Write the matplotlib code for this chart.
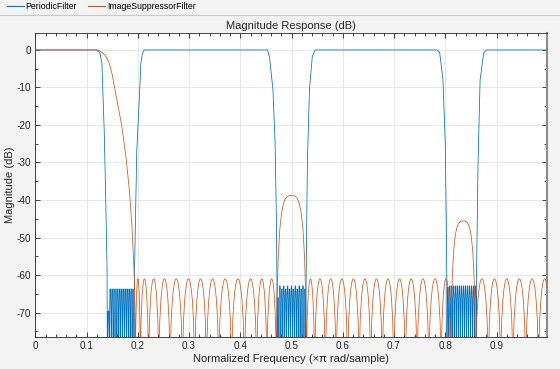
import matplotlib.pyplot as plt
from matplotlib.lines import Line2D
from matplotlib.patches import PathPatch
from matplotlib.path import Path

plt.rcParams['font.family'] = ['Liberation Sans', 'DejaVu Sans']
plt.rcParams['axes.unicode_minus'] = False

BLUE = '#0072BD'
ORANGE = '#D95319'
FLOOR = -90.0  # nulls go far below the visible range
LW = 0.55

# ---- PeriodicFilter (blue) ----
# passband / transition edges, (freq, dB)
periodic_edges = [
    ([0.0, 0.05, 0.10, 0.1217, 0.126, 0.130, 0.1346, 0.1375, 0.1400, 0.1408],
     [0.0, 0.0, 0.0, 0.0, -0.8, -3.5, -22.0, -40.0, -58.0, -90.0]),
    ([0.1925, 0.1935, 0.198, 0.2035, 0.206, 0.209, 0.2127, 0.30, 0.40, 0.453, 0.457, 0.4638, 0.468, 0.4705, 0.4715, 0.4718],
     [-90.0, -60.0, -27.0, -11.5, -3.5, -1.0, 0.0, 0.0, 0.0, 0.0, -1.8, -10.6, -25.0, -45.0, -60.0, -90.0]),
    ([0.528, 0.5285, 0.531, 0.535, 0.5405, 0.546, 0.65, 0.75, 0.784, 0.789, 0.7955, 0.800, 0.802, 0.803, 0.8033],
     [-90.0, -60.0, -30.0, -10.6, -1.8, 0.0, 0.0, 0.0, 0.0, -0.6, -8.0, -25.0, -45.0, -60.0, -90.0]),
    ([0.8605, 0.861, 0.864, 0.868, 0.8748, 0.880, 0.95, 0.998],
     [-90.0, -60.0, -30.0, -8.0, -0.9, 0.0, 0.0, 0.0]),
]
# stopband ripple: null frequencies and lobe peak levels
periodic_nulls = [
    [0.1408, 0.1445, 0.1482, 0.1519, 0.1556, 0.1593, 0.1630, 0.1667, 0.1704, 0.1741, 0.1778, 0.1815, 0.1852, 0.1889, 0.1925],
    [0.4718, 0.4755, 0.4793, 0.4830, 0.4868, 0.4905, 0.4943, 0.4980, 0.5018, 0.5055, 0.5093, 0.5130, 0.5168, 0.5205, 0.5243, 0.5280],
    [0.8033, 0.8071, 0.8109, 0.8147, 0.8186, 0.8224, 0.8262, 0.8300, 0.8338, 0.8376, 0.8414, 0.8452, 0.8491, 0.8529, 0.8567, 0.8605],
]
periodic_peaks = [
    [-68.7, -62.6, -62.6, -62.6, -62.6, -62.6, -62.6, -62.6, -62.6, -62.6, -62.6, -62.6, -62.6, -62.6],
    [-65.0, -62.6, -62.6, -62.6, -62.6, -62.6, -62.6, -62.6, -62.6, -62.6, -62.6, -62.6, -62.6, -62.6, -62.6],
    [-63.0, -62.6, -62.6, -62.6, -62.6, -62.6, -62.6, -62.6, -62.6, -62.6, -62.6, -62.6, -62.6, -62.6, -62.6],
]

# ---- ImageSuppressorFilter (orange) ----
image_pass_f = [0.0, 0.05, 0.10, 0.118, 0.125, 0.130, 0.136, 0.143, 0.150, 0.156, 0.163, 0.169, 0.1776, 0.184,
                0.1886, 0.1918, 0.1932, 0.1945, 0.1955]
image_pass_db = [0.0, 0.0, 0.0, 0.0, -0.2, -0.6, -1.4, -3.0, -6.5, -11.0, -16.0, -20.5, -29.3, -38.0,
                 -47.0, -56.0, -61.0, -68.0, -90.0]
image_nulls = [0.1955, 0.205, 0.221, 0.241, 0.263, 0.287, 0.311, 0.334, 0.358, 0.383, 0.408, 0.432, 0.452, 0.4705,
               0.529, 0.545, 0.566, 0.587, 0.6095, 0.632, 0.6545, 0.677, 0.6995, 0.722, 0.745, 0.768, 0.792, 0.811,
               0.859, 0.884, 0.908, 0.932, 0.957, 0.982, 1.006]
image_peaks = [-61.0] * 13 + [-38.8] + [-61.0] * 13 + [-45.6] + [-61.0] * 6

freq_ticks = [0, 0.1, 0.2, 0.3, 0.4, 0.5, 0.6, 0.7, 0.8, 0.9]
freq_labels = ['0', '0.1', '0.2', '0.3', '0.4', '0.5', '0.6', '0.7', '0.8', '0.9']
mag_ticks = [0, -10, -20, -30, -40, -50, -60, -70]


def lobe(verts, codes, a, b, peak):
    if peak > -50:
        # wide bump, steep sides
        h = (b - a) / 2
        verts += [(a, peak), (a + 0.45 * h, peak), (a + h, peak),
                  (b - 0.45 * h, peak), (b, peak), (b, FLOOR)]
        codes += [Path.CURVE4] * 6
    else:
        c = (peak - 0.25 * FLOOR) / 0.75
        verts += [(a, c), (b, c), (b, FLOOR)]
        codes += [Path.CURVE4] * 3


def response_path(polylines, nulls_list, peaks_list):
    verts, codes = [], []
    for f, db in polylines:
        verts += list(zip(f, db))
        codes += [Path.MOVETO] + [Path.LINETO] * (len(f) - 1)
    for nulls, peaks in zip(nulls_list, peaks_list):
        verts.append((nulls[0], FLOOR))
        codes.append(Path.MOVETO)
        for i, p in enumerate(peaks):
            lobe(verts, codes, nulls[i], nulls[i + 1], p)
    return Path(verts, codes)


fig = plt.figure(figsize=(5.6, 3.69), dpi=100, facecolor='#F3F3F3')
ax = fig.add_axes([0.063, 0.0859, 0.9133, 0.8255])

blue_path = response_path(periodic_edges, periodic_nulls, periodic_peaks)
ax.add_patch(PathPatch(blue_path, fill=False, edgecolor=BLUE, lw=LW, zorder=3))
orange_path = response_path([(image_pass_f, image_pass_db)], [image_nulls], [image_peaks])
ax.add_patch(PathPatch(orange_path, fill=False, edgecolor=ORANGE, lw=LW, zorder=4))

ax.set_xlim(0, 0.998)
ax.set_ylim(-76.6, 4.6)
ax.set_xticks(freq_ticks)
ax.set_xticklabels(freq_labels)
ax.set_yticks(mag_ticks)
ax.set_xticks([i * 0.02 for i in range(50)], minor=True)
ax.set_yticks([-75 + 5 * i for i in range(16)], minor=True)
ax.tick_params(which='both', direction='in', top=True, right=True, colors='#262626', labelsize=7.2, width=0.6)
ax.tick_params(which='major', length=3.5, pad=3)
ax.tick_params(which='minor', length=2)
ax.grid(True, which='major', color='#E3E3E3', lw=0.6)
ax.set_axisbelow(True)
for s in ax.spines.values():
    s.set_color('#262626')
    s.set_linewidth(0.6)
ax.spines['right'].set_color('#8C8C8C')
ax.spines['right'].set_linewidth(1.5)

ax.set_title('Magnitude Response (dB)', fontsize=8, color='#262626', pad=3)
ax.set_xlabel('Normalized Frequency (\u00d7\u03c0 rad/sample)', fontsize=8, color='#262626', labelpad=2)
ax.set_ylabel('Magnitude (dB)', fontsize=8, color='#262626', labelpad=1)

handles = [Line2D([], [], color=BLUE, lw=0.8), Line2D([], [], color=ORANGE, lw=0.8)]
fig.legend(handles, ['PeriodicFilter', 'ImageSuppressorFilter'], loc='upper left',
           bbox_to_anchor=(6.5 / 560, 1 - 2.0 / 369), ncol=2, frameon=False, fontsize=6.3,
           handlelength=1.95, handletextpad=0.25, columnspacing=1.2, borderpad=0, borderaxespad=0)
fig.add_artist(Line2D([0, 1], [1 - 14.5 / 369] * 2, transform=fig.transFigure, color='#C8C8C8', lw=0.8))

fig.savefig('out.png', dpi=100, facecolor=fig.get_facecolor())
